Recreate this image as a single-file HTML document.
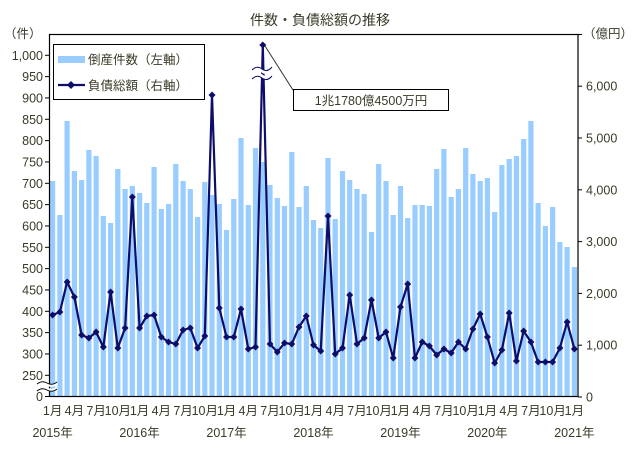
<!DOCTYPE html>
<html><head><meta charset="utf-8"><style>
body{margin:0;background:#fff;}
svg{display:block;font-family:"Liberation Sans","Noto Sans CJK JP",sans-serif;}
text{fill:#3a3a28;font-size:12.5px;}
</style></head><body>
<svg id="s" width="641" height="467" viewBox="0 0 641 467" xmlns="http://www.w3.org/2000/svg">
<text x="320" y="25" text-anchor="middle" font-size="14" style="font-size:14px">件数・負債総額の推移</text>
<g id="bars"></g>
<g id="axes"></g>
<polyline id="ln" fill="none" stroke="#0d0d6b" stroke-width="2.2" stroke-linejoin="round"/>
<g id="mk"></g>
<path d="M252,72 q5,-5 10,-1 t10,-2 M252,77 q5,-5 10,-1 t10,-2" stroke="#fff" stroke-width="3" fill="none"/>
<path d="M252,70 q5,-5 10,-1 t10,-2 M252,79 q5,-5 10,-1 t10,-2" stroke="#0d0d6b" stroke-width="1" fill="none"/>
<polyline points="265,46 293,90 300,90" fill="none" stroke="#333" stroke-width="1"/>
<rect x="293.5" y="89.5" width="155" height="21" fill="#fff" stroke="#000"/>
<text x="371" y="105" text-anchor="middle">1兆1780億4500万円</text>
<rect x="53.5" y="44.5" width="151" height="55" fill="#fff" stroke="#000"/>
<rect x="58" y="56" width="27" height="7" fill="#99ccff"/>
<text x="88" y="64">倒産件数（左軸）</text>
<line x1="58" y1="85" x2="85" y2="85" stroke="#0d0d6b" stroke-width="2.2"/>
<path d="M71,81 L75,85 L71,89 L67,85Z" fill="#0d0d6b"/>
<text x="88" y="90">負債総額（右軸）</text>
</svg>
<script>
var NS="http://www.w3.org/2000/svg",s=document.getElementById('s');
function el(p,t,a,txt){var e=document.createElementNS(NS,t);for(var k in a)e.setAttribute(k,a[k]);if(txt!=null)e.textContent=txt;document.getElementById(p)?document.getElementById(p).appendChild(e):s.appendChild(e);return e;}
var bars=[181,215,121,171,180,150,156,216,223,169,189,186,193,203,167,209,204,164,181,189,217,182,195,204,230,199,138,205,148,162,185,198,206,152,207,186,220,228,158,219,171,180,189,194,232,164,181,215,186,218,205,205,206,169,149,197,189,148,174,181,178,212,165,159,156,139,121,203,226,207,242,247,267];
var line=[315,312,282,297,335,338,332,347,292,348,328,197,328,316,315,337,342,344,330,328,348,336,95,308,337,337,309,349,347,45,344,352,343,344,327,316,345,351,216,354,348,295,344,338,300,338,332,358,307,284,358,342,346,355,349,353,342,349,329,314,337,363,350,313,361,331,342,362,362,362,348,322,349];
var x0=49,x1=578,yb=396.5,w=(x1-x0)/73;
function cx(i){return x0+w*(i+0.5);}
for(var i=0;i<73;i++){el('bars','rect',{x:(cx(i)-2.6).toFixed(1),y:bars[i],width:5.2,height:(yb-bars[i]).toFixed(1),fill:'#99ccff'});}
var pts=line.map(function(y,i){return cx(i).toFixed(1)+','+y;}).join(' ');
document.getElementById('ln').setAttribute('points',pts);
line.forEach(function(y,i){var x=cx(i);el('mk','path',{d:'M'+x+','+(y-3.5)+' L'+(x+3.5)+','+y+' L'+x+','+(y+3.5)+' L'+(x-3.5)+','+y+'Z',fill:'#0d0d6b'});});
el('axes','rect',{x:49.5,y:34.5,width:528.5,height:362,fill:'none',stroke:'#000','stroke-width':1.2});
for(var v=250;v<=1000;v+=50){var y=375.3-(v-250)*0.4267;el('axes','line',{x1:45,x2:49,y1:y,y2:y,stroke:'#000'});el('axes','text',{x:43,y:y+4.5,'text-anchor':'end'},v>=1000?'1,000':String(v));}
el('axes','line',{x1:45,x2:49,y1:396.5,y2:396.5,stroke:'#000'});
el('axes','text',{x:43,y:401,'text-anchor':'end'},'0');
el('axes','text',{x:4,y:38},'（件）');
el('axes','path',{d:'M37,385 q5,-4 10,-1 t10,-1 M37,390 q5,-4 10,-1 t10,-1',stroke:'#fff','stroke-width':3,fill:'none'});
el('axes','path',{d:'M37,384 q5,-4 10,-1 t10,-1 M37,391 q5,-4 10,-1 t10,-1',stroke:'#000','stroke-width':1,fill:'none'});
for(var k=0;k<=6;k++){var y=397-k*51.8;el('axes','line',{x1:578,x2:582,y1:y,y2:y,stroke:'#000'});el('axes','text',{x:586,y:y+4.5},k==0?'0':k+',000');}
el('axes','line',{x1:578,x2:582,y1:34.5,y2:34.5,stroke:'#000'});
el('axes','text',{x:583,y:38},'（億円）');
var m=['1月','4月','7月','10月'];
for(var i=0;i<73;i+=3){el('axes','text',{x:cx(i),y:415,'text-anchor':'middle'},m[(i/3)%4]);}
for(var yr=0;yr<7;yr++){el('axes','text',{x:cx(yr*12),y:437,'text-anchor':'middle'},(2015+yr)+'年');}
</script>
</body></html>
